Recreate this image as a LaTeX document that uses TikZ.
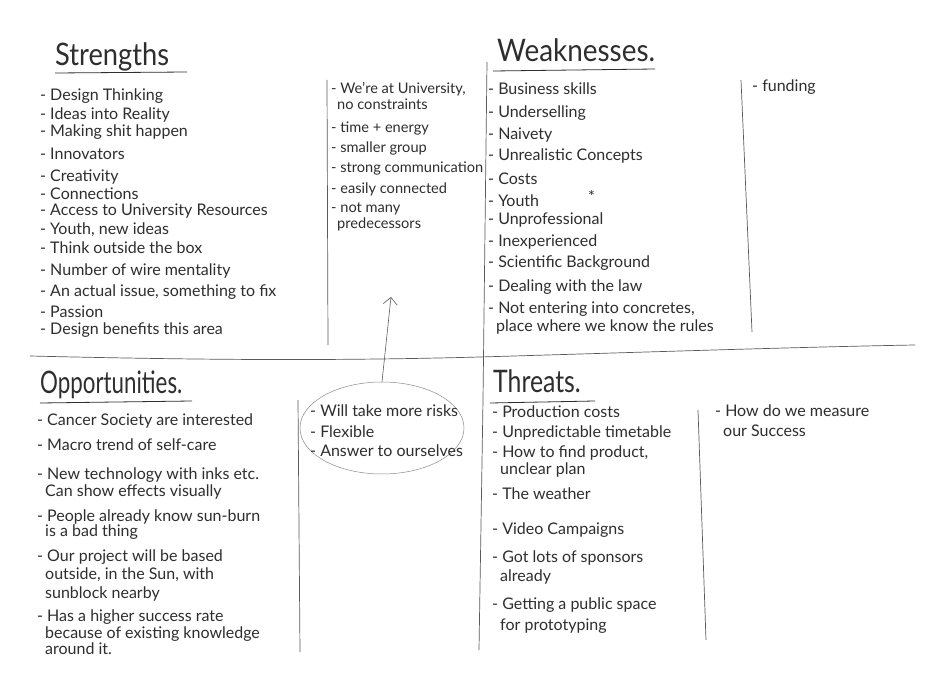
\documentclass[tikz,border=0pt]{standalone}
\usepackage{fontspec}
\setmainfont{Lato}
\usetikzlibrary{arrows.meta,shapes.geometric}
\definecolor{ink}{HTML}{2E2E2E}
\definecolor{rule}{HTML}{5A5A5A}
\begin{document}
\begin{tikzpicture}[x=1pt,y=-1pt,
  item/.style={anchor=base west, inner sep=0pt, text=ink, font=\fontsize{16}{18}\selectfont},
  narrowitem/.style={item, font=\fontsize{14.6}{16}\selectfont},
  title/.style={anchor=base west, inner sep=0pt, text=ink, font=\fontsize{31}{33}\selectfont},
  divider/.style={draw=rule, line width=0.7pt},
  underline/.style={draw=ink, line width=0.8pt}]
\useasboundingbox[fill=white] (0,0) rectangle (930,698);

% ---------- frame lines ----------
\draw[divider] (30,356) .. controls (200,360) and (330,361) .. (480,357)
               .. controls (650,352) and (800,347) .. (915,345);
\draw[divider] (487,62) -- (483,400) -- (479,650);
\draw[divider] (327,80) -- (328,345);
\draw[divider] (741,80) -- (752,332);
\draw[divider] (298,400) -- (300,652);
\draw[divider] (698,410) -- (706,640);

% ---------- Strengths ----------
\node[title] (sT) at (55,66) {\scalebox{0.88}[1]{Strengths}};
\draw[underline] (55,73) -- (187,72);
\node[item] (s1)  at (40,101) {- Design Thinking};
\node[item] (s2)  at (40,120) {- Ideas into Reality};
\node[item] (s3)  at (40,137) {- Making shit happen};
\node[item] (s4)  at (40,160) {- Innovators};
\node[item] (s5)  at (40,182) {- Creativity};
\node[item] (s6)  at (40,200) {- Connections};
\node[item] (s7)  at (40,216) {- Access to University Resources};
\node[item] (s8)  at (40,235) {- Youth, new ideas};
\node[item] (s9)  at (40,254) {- Think outside the box};
\node[item] (s10) at (40,275) {- Number of wire mentality};
\node[item] (s11) at (40,296) {- An actual issue, something to fix};
\node[item] (s12) at (40,317) {- Passion};
\node[item] (s13) at (40,334) {- Design benefits this area};

\node[narrowitem] (c1) at (331,94)  {- We're at University,};
\node[narrowitem] (c2) at (337,110) {no constraints};
\node[narrowitem] (c3) at (331,133) {- time + energy};
\node[narrowitem] (c4) at (331,153) {- smaller group};
\node[narrowitem] (c5) at (331,173) {- strong communication};
\node[narrowitem] (c6) at (331,194) {- easily connected};
\node[narrowitem] (c7) at (331,213) {- not many};
\node[narrowitem] (c8) at (337,229) {predecessors};

% ---------- Weaknesses ----------
\node[title] (wT) at (497,62) {\scalebox{0.9}[1]{Weaknesses.}};
\draw[underline] (493,71) -- (655,69);
\node[item] (w1)  at (488,95)  {- Business skills};
\node[item] (w2)  at (488,118) {- Underselling};
\node[item] (w3)  at (488,140) {- Naivety};
\node[item] (w4)  at (488,161) {- Unrealistic Concepts};
\node[item] (w5)  at (488,185) {- Costs};
\node[item] (w6)  at (488,207) {- Youth};
\node[item] (ws)  at (588,203) {*};
\node[item] (w7)  at (488,225) {- Unprofessional};
\node[item] (w8)  at (488,247) {- Inexperienced};
\node[item] (w9)  at (488,268) {- Scientific Background};
\node[item] (w10) at (488,291) {- Dealing with the law};
\node[item] (w11) at (488,313) {- Not entering into concretes,};
\node[item] (w12) at (496,331) {place where we know the rules};
\node[item] (w13) at (752,92)  {- funding};

% ---------- Opportunities ----------
\node[title] (oT) at (40,393) {\scalebox{0.72}[1]{Opportunities.}};
\draw[underline] (40,403) -- (192,401);
\node[item] (o1)  at (37,425) {- Cancer Society are interested};
\node[item] (o2)  at (37,450) {- Macro trend of self-care};
\node[item] (o3)  at (37,479) {- New technology with inks etc.};
\node[item] (o4)  at (45,496) {Can show effects visually};
\node[item] (o5)  at (37,521) {- People already know sun-burn};
\node[item] (o6)  at (45,536) {is a bad thing};
\node[item] (o7)  at (37,561) {- Our project will be based};
\node[item] (o8)  at (45,579) {outside, in the Sun, with};
\node[item] (o9)  at (45,598) {sunblock nearby};
\node[item] (o10) at (37,621) {- Has a higher success rate};
\node[item] (o11) at (45,638) {because of existing knowledge};
\node[item] (o12) at (45,654) {around it.};

% circled items with arrow pointing up into Strengths
\node[draw=rule!70, line width=0.5pt, ellipse, minimum width=164pt, minimum height=92pt] (risk) at (382,428) {};
\node[item] (r1) at (310,416) {- Will take more risks};
\node[item] (r2) at (310,437) {- Flexible};
\node[item] (r3) at (310,456) {- Answer to ourselves};
\coordinate (tip) at (391,297);
\draw[draw=rule, line width=0.6pt, -{Straight Barb[length=7pt,width=14pt]}] (risk.north) -- (tip);

% ---------- Threats ----------
\node[title] (tT) at (493,392) {\scalebox{0.8}[1]{Threats.}};
\draw[underline] (490,403) -- (595,401);
\node[item] (t1)  at (492,417) {- Production costs};
\node[item] (t2)  at (492,437) {- Unpredictable timetable};
\node[item] (t3)  at (492,457) {- How to find product,};
\node[item] (t4)  at (500,474) {unclear plan};
\node[item] (t5)  at (492,499) {- The weather};
\node[item] (t6)  at (492,534) {- Video Campaigns};
\node[item] (t7)  at (492,562) {- Got lots of sponsors};
\node[item] (t8)  at (500,581) {already};
\node[item] (t9)  at (492,609) {- Getting a public space};
\node[item] (t10) at (500,630) {for prototyping};
\node[item] (t11) at (715,416) {- How do we measure};
\node[item] (t12) at (723,436) {our Success};
\end{tikzpicture}
\end{document}
